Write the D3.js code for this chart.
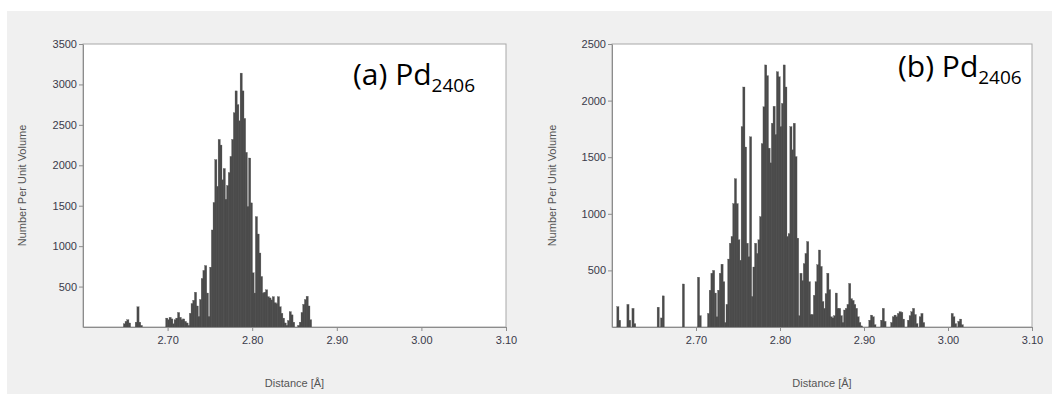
<!DOCTYPE html>
<html>
<head>
<meta charset="utf-8">
<script src="https://cdn.jsdelivr.net/npm/d3@7"></script>
<style>
  body { margin: 0; background: #fff; }
  svg { display: block; }
</style>
</head>
<body>
<div id="chart"></div>
<script>
// histogram bins, width 0.002 Å, counts per unit volume
var binWidth = 0.002;

// (a) bins start at 2.646, one line = 10 bins
var startA = 2.646;
var countsA = [
  0, 40, 70, 90, 50, 0, 0, 0, 60, 250,
  60, 20, 0, 0, 0, 0, 0, 0, 0, 0,
  0, 0, 0, 0, 0, 0, 110, 90, 120, 100,
  40, 90, 110, 180, 120, 90, 100, 70, 50, 20,
  170, 290, 330, 430, 260, 130, 340, 600, 700, 760,
  420, 130, 740, 1200, 1540, 2070, 1740, 2320, 2250, 1820,
  1960, 1580, 1750, 1910, 2110, 2320, 2650, 2920, 2750, 2550,
  3140, 2920, 2580, 2160, 1490, 2090, 1535, 670, 420, 1365,
  1150, 915, 625, 420, 430, 460, 375, 360, 335, 375,
  300, 290, 375, 250, 170, 110, 50, 20, 80, 190,
  150, 60, 0, 0, 20, 60, 180, 280, 340, 380,
  260, 90, 0
];

// (b) bins start at 2.604
var startB = 2.604;
var countsB = [
  0, 180, 60, 0, 0, 0, 0, 200, 60, 0,
  165, 30, 0, 0, 0, 0, 0, 0, 0, 0,
  0, 0, 0, 0, 0, 175, 0, 80, 275, 0,
  0, 0, 0, 0, 0, 0, 0, 0, 0, 0,
  380, 0, 0, 0, 0, 0, 0, 0, 0, 440,
  100, 0, 0, 0, 0, 120, 325, 475, 500, 300,
  90, 325, 475, 555, 400, 40, 200, 600, 740, 800,
  1090, 1310, 1090, 770, 590, 1770, 2120, 1590, 740, 620,
  1680, 270, 530, 740, 650, 770, 975, 1620, 1945, 2315,
  2220, 1580, 1450, 1800, 1950, 1700, 2255, 2210, 1770, 1975,
  2315, 2120, 800, 825, 1770, 1565, 1800, 1505, 785, 100,
  475, 410, 560, 650, 755, 400, 110, 110, 280, 400,
  550, 680, 535, 225, 165, 295, 475, 330, 90, 80,
  100, 300, 165, 165, 100, 40, 150, 165, 200, 385,
  250, 235, 200, 165, 90, 40, 10, 0, 0, 0,
  0, 60, 105, 90, 20, 0, 0, 0, 60, 165,
  50, 0, 0, 0, 40, 90, 105, 90, 120, 135,
  130, 70, 0, 0, 60, 100, 135, 165, 110, 30,
  0, 90, 120, 40, 0, 0, 0, 0, 0, 0,
  0, 0, 0, 0, 0, 0, 0, 0, 0, 0,
  120, 90, 30, 0, 50, 70, 20
];

var xDomain = [2.60, 3.10];
var xTicks = [2.70, 2.80, 2.90, 3.00, 3.10];
var yTicksA = [500, 1000, 1500, 2000, 2500, 3000, 3500];
var yTicksB = [500, 1000, 1500, 2000, 2500];

var W = 1052, H = 394;
var svg = d3.select("#chart").append("svg")
  .attr("width", W)
  .attr("height", H);

// grey window background
svg.append("rect")
  .attr("x", 7).attr("y", 11)
  .attr("width", W - 7).attr("height", H - 11)
  .attr("fill", "#f0f0f0");

function toBins(start, counts) {
  return counts.map(function(c, i) {
    var x0 = +(start + i * binWidth).toFixed(3);
    return { x0: x0, x1: x0 + binWidth, n: c };
  });
}

function drawPanel(opt) {
  var g = svg.append("g")
    .attr("transform", "translate(" + opt.left + "," + opt.top + ")");
  var w = opt.width, h = opt.height;

  var x = d3.scaleLinear().domain(xDomain).range([0, w]);
  var y = d3.scaleLinear().domain([0, opt.yMax]).range([h, 0]);

  g.append("rect")
    .attr("width", w).attr("height", h)
    .attr("fill", "#fff")
    .attr("stroke", "#a8a8a8")
    .attr("stroke-width", 1);

  var bins = toBins(opt.start, opt.counts).filter(function(d) { return d.n > 0; });
  // bars overlap slightly so the block reads solid like the original
  g.append("g").selectAll("rect")
    .data(bins)
    .join("rect")
    .attr("x", function(d) { return x(d.x0) - 0.25; })
    .attr("width", function(d) { return x(d.x1) - x(d.x0) + 0.5; })
    .attr("y", function(d) { return y(d.n); })
    .attr("height", function(d) { return h - y(d.n); })
    .attr("fill", "#4a4a4a")
    .attr("stroke", "#555")
    .attr("stroke-width", 0.3);

  var xAxis = g.append("g")
    .attr("transform", "translate(0," + h + ")")
    .call(d3.axisBottom(x).tickValues(xTicks).tickSize(4).tickSizeOuter(0)
      .tickFormat(d3.format(".2f")));
  var yAxis = g.append("g")
    .call(d3.axisLeft(y).tickValues(opt.yTicks).tickSize(4).tickSizeOuter(0)
      .tickFormat(d3.format("d")));

  [xAxis, yAxis].forEach(function(a) {
    a.select(".domain").attr("stroke", "#8c8c8c");
    a.selectAll(".tick line").attr("stroke", "#8c8c8c");
    a.selectAll(".tick text")
      .attr("fill", "#3a3a4a")
      .style("font-family", "'Liberation Sans', Arial, sans-serif")
      .style("font-size", "11px");
  });
  xAxis.selectAll(".tick text").attr("dy", "0.75em").attr("y", 9);
  yAxis.selectAll(".tick text").attr("x", -6);

  // axis titles
  svg.append("text")
    .attr("x", opt.left + w / 2)
    .attr("y", 387)
    .attr("text-anchor", "middle")
    .attr("fill", "#555")
    .style("font-family", "'Liberation Sans', Arial, sans-serif")
    .style("font-size", "11px")
    .text("Distance [Å]");

  svg.append("text")
    .attr("transform", "translate(" + opt.yLabelX + "," + (opt.top + h / 2) + ") rotate(-90)")
    .attr("text-anchor", "middle")
    .attr("fill", "#555")
    .style("font-family", "'Liberation Sans', Arial, sans-serif")
    .style("font-size", "11px")
    .text("Number Per Unit Volume");

  // panel title with subscript
  var t = svg.append("text")
    .attr("x", opt.titleX)
    .attr("y", opt.titleY)
    .attr("fill", "#000")
    .style("font-family", "'Open Sans', sans-serif");
  t.append("tspan").style("font-size", "30px").text(opt.label + " Pd");
  t.append("tspan").style("font-size", "19px").attr("dy", 7).text("2406");
}

drawPanel({
  left: 83, top: 44, width: 423, height: 283,
  yMax: 3500, yTicks: yTicksA,
  start: startA, counts: countsA,
  yLabelX: 26, titleX: 353, titleY: 85, label: "(a)"
});

drawPanel({
  left: 612, top: 44, width: 420, height: 283,
  yMax: 2500, yTicks: yTicksB,
  start: startB, counts: countsB,
  yLabelX: 556, titleX: 898, titleY: 77, label: "(b)"
});
</script>
</body>
</html>
